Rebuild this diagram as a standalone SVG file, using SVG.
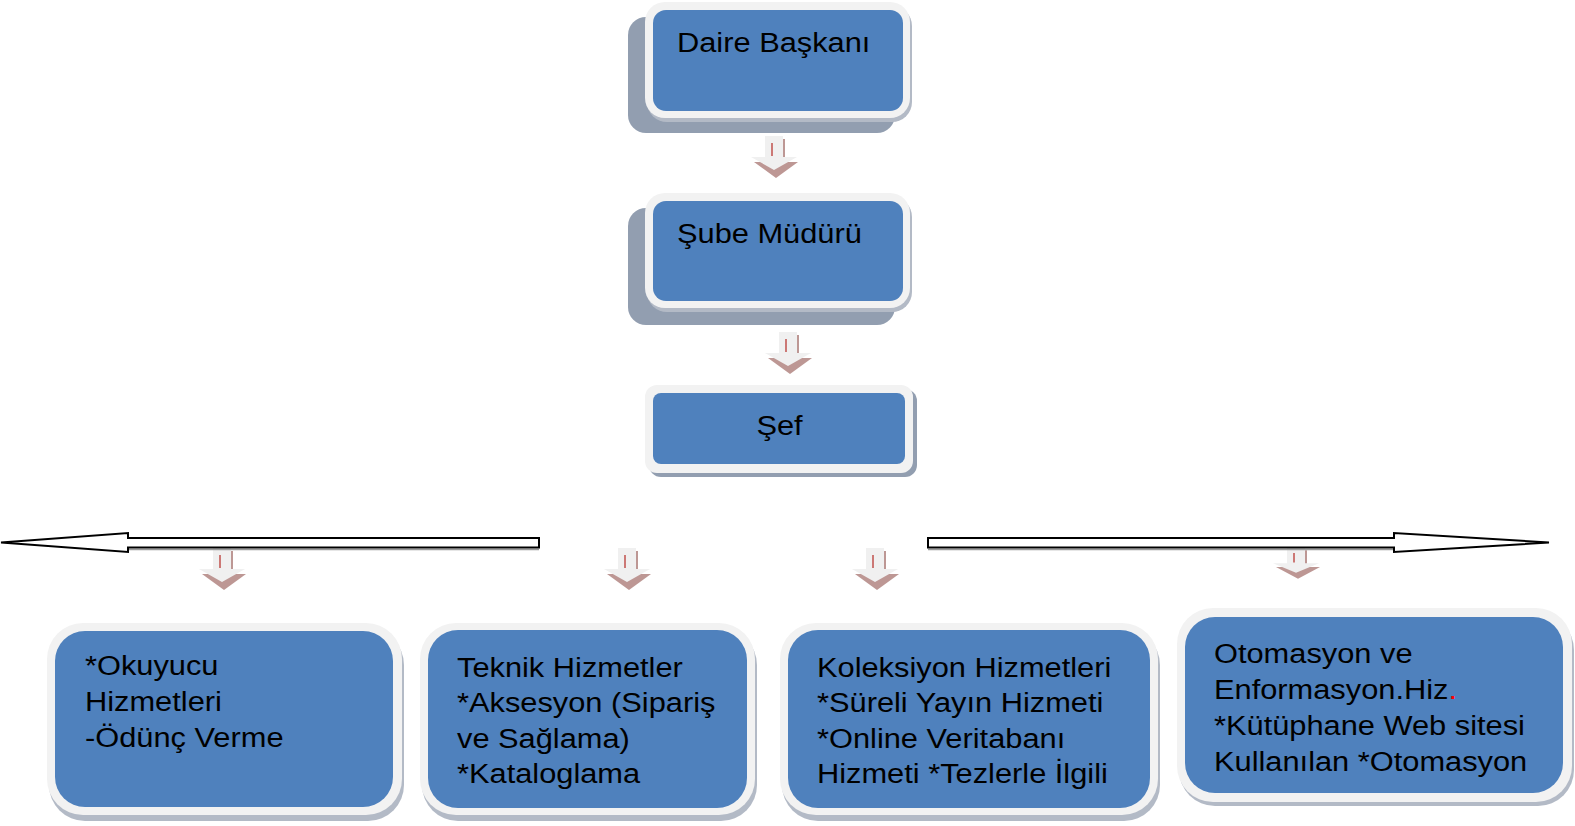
<svg xmlns="http://www.w3.org/2000/svg" xmlns:xlink="http://www.w3.org/1999/xlink" width="1575" height="826" viewBox="0 0 1575 826">
<style>
.bg{fill:#ffffff}
.shadowBig{fill:#929eb0}
.edge{fill:#b3bac6}
.frame{fill:#f2f2f2}
.blue{fill:#4f81bd}
.t{font-family:"Liberation Sans",Arial,sans-serif;font-size:28px;fill:#000000}
.big{fill:#ffffff;stroke:#000000;stroke-width:2;stroke-linejoin:miter}
.bigsh{fill:none;stroke:#9a9a9a;stroke-width:1.5}
.aBrown{fill:#bd9794}
.aGrey{fill:#f0f0f0}
.aRed{stroke:#c0504d;stroke-width:1.5}
</style>
<defs>
<g id="smallArrow">
<polygon class="aBrown" points="-8,3 10,3 10,26 23,26 1,42 -21,26 -8,26"/>
<polygon class="aGrey" points="-10,0 8,0 8,21 22,21 -1,34 -24,21 -10,21"/>
<line class="aRed" x1="-3" y1="7" x2="-3" y2="20"/>
</g>
</defs>
<rect class="bg" x="0" y="0" width="1575" height="826"/>

<g id="connectors">
<use xlink:href="#smallArrow" transform="translate(775,136)"/>
<use xlink:href="#smallArrow" transform="translate(789,332)"/>
<use xlink:href="#smallArrow" transform="translate(223,548)"/>
<use xlink:href="#smallArrow" transform="translate(628,548)"/>
<use xlink:href="#smallArrow" transform="translate(876,548)"/>
<use xlink:href="#smallArrow" transform="translate(1297,548) scale(1,0.73)"/>
<g id="leftBigArrow">
<polyline class="bigsh" points="128,549.5 539,549.5"/>
<polygon class="big" points="539,538 539,547.5 128,547.5 128,552 1,542.5 128,533 128,538"/>
</g>
<g id="rightBigArrow">
<polyline class="bigsh" points="928,549.5 1394,549.5"/>
<polygon class="big" points="928,538 928,547.5 1394,547.5 1394,552 1549,542.5 1394,533 1394,538"/>
</g>
</g>

<g id="node-daire">
<rect class="shadowBig" x="628" y="17" width="267" height="116" rx="18"/>
<rect class="edge" x="647" y="6" width="265" height="116" rx="20"/>
<rect class="frame" x="645" y="2" width="265" height="116" rx="20"/>
<rect class="blue" x="653" y="10" width="250" height="101" rx="13"/>
<text class="t" transform="translate(677,52) scale(1.1,1)">Daire Başkanı</text>
</g>

<g id="node-sube">
<rect class="shadowBig" x="628" y="208" width="267" height="117" rx="18"/>
<rect class="edge" x="647" y="197" width="265" height="115" rx="20"/>
<rect class="frame" x="645" y="193" width="265" height="115" rx="20"/>
<rect class="blue" x="653" y="201" width="250" height="100" rx="13"/>
<text class="t" transform="translate(677,243) scale(1.1,1)">Şube Müdürü</text>
</g>

<g id="node-sef">
<rect class="shadowBig" x="649" y="389" width="268" height="88" rx="12"/>
<rect class="frame" x="645" y="385" width="268" height="88" rx="12"/>
<rect class="blue" x="653" y="393" width="252" height="71" rx="8"/>
<text class="t" text-anchor="middle" transform="translate(779.5,435) scale(1.1,1)">Şef</text>
</g>

<g id="node-okuyucu">
<rect class="edge" x="49" y="629" width="355" height="192" rx="36"/>
<rect class="frame" x="47" y="623" width="355" height="192" rx="36"/>
<rect class="blue" x="55" y="631" width="338" height="176" rx="30"/>
<text class="t" transform="translate(85,675) scale(1.1,1)"><tspan x="0" y="0">*Okuyucu</tspan><tspan x="0" y="36">Hizmetleri</tspan><tspan x="0" y="72">-Ödünç Verme</tspan></text>
</g>

<g id="node-teknik">
<rect class="edge" x="422" y="629" width="335" height="192" rx="36"/>
<rect class="frame" x="420" y="623" width="335" height="192" rx="36"/>
<rect class="blue" x="428" y="630" width="319" height="178" rx="30"/>
<text class="t" transform="translate(457,677) scale(1.1,1)"><tspan x="0" y="0">Teknik Hizmetler</tspan><tspan x="0" y="35.5">*Aksesyon (Sipariş</tspan><tspan x="0" y="71">ve Sağlama)</tspan><tspan x="0" y="106.5">*Kataloglama</tspan></text>
</g>

<g id="node-koleksiyon">
<rect class="edge" x="782" y="629" width="378" height="192" rx="36"/>
<rect class="frame" x="780" y="623" width="378" height="192" rx="36"/>
<rect class="blue" x="788" y="630" width="362" height="178" rx="30"/>
<text class="t" transform="translate(817,677) scale(1.1,1)"><tspan x="0" y="0">Koleksiyon Hizmetleri</tspan><tspan x="0" y="35.5">*Süreli Yayın Hizmeti</tspan><tspan x="0" y="71">*Online Veritabanı</tspan><tspan x="0" y="106.5">Hizmeti *Tezlerle İlgili</tspan></text>
</g>

<g id="node-otomasyon">
<rect class="edge" x="1179" y="614" width="395" height="192" rx="36"/>
<rect class="frame" x="1177" y="608" width="395" height="194" rx="36"/>
<rect class="blue" x="1185" y="617" width="378" height="176" rx="30"/>
<text class="t" transform="translate(1214,663) scale(1.1,1)"><tspan x="0" y="0">Otomasyon ve</tspan><tspan x="0" y="36">Enformasyon.Hiz<tspan fill="#ff0000">.</tspan></tspan><tspan x="0" y="72">*Kütüphane Web sitesi</tspan><tspan x="0" y="108">Kullanılan *Otomasyon</tspan></text>
</g>
</svg>
